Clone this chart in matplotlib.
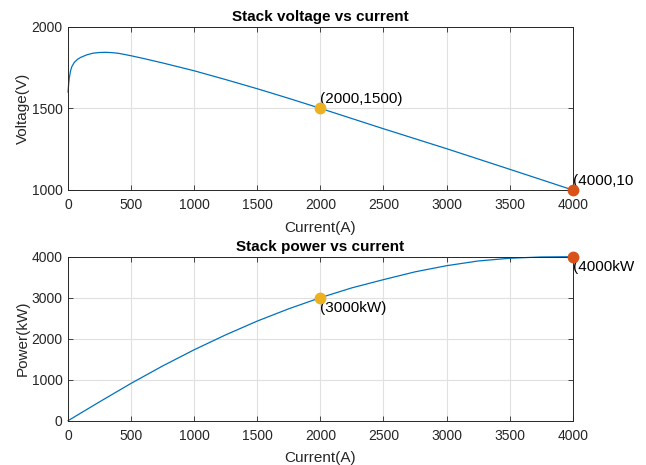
import matplotlib
matplotlib.use("Agg")
import matplotlib.pyplot as plt
from matplotlib.transforms import Bbox, TransformedBbox, IdentityTransform

plt.rcParams['font.family'] = ['Liberation Sans', 'DejaVu Sans']

# Stack voltage samples (current in A, voltage in V)
current_v = [0, 5, 10, 20, 30, 50, 75, 100, 150, 200, 250, 300, 350, 400,
             500, 600, 750, 1000, 1250, 1500, 1750, 2000, 2500, 3000, 3500,
             4000]
voltage = [1600, 1650, 1685, 1730, 1755, 1782, 1800, 1812, 1828, 1838, 1842,
           1843, 1841, 1837, 1822, 1805, 1778, 1730, 1676, 1620, 1561, 1500,
           1375, 1253, 1127, 1000]

# Stack power samples (current in A, power in kW)
current_p = [0, 250, 500, 750, 1000, 1250, 1500, 1750, 2000, 2250, 2500,
             2750, 3000, 3250, 3500, 3750, 4000]
power = [0, 460, 911, 1335, 1730, 2094, 2430, 2730, 3000, 3240, 3440,
         3630, 3780, 3895, 3962, 3993, 4000]

# Marked operating points
mark_current = [2000, 4000]
mark_voltage = [1500, 1000]
mark_power = [3000, 4000]
volt_labels = ['(2000,1500)', '(4000,1000)']
power_labels = ['(3000kW)', '(4000kW)']

x_ticks = [0, 500, 1000, 1500, 2000, 2500, 3000, 3500, 4000]
v_ticks = [1000, 1500, 2000]
p_ticks = [0, 1000, 2000, 3000, 4000]

line_c = '#0072BD'
mark_c = ['#EDB120', '#D95319']
tick_fs = 10
label_fs = 11
title_fs = 11

fig = plt.figure(figsize=(6.46, 4.65), dpi=100)
ax1 = fig.add_axes([0.1053, 0.5914, 0.7813, 0.3512])
ax2 = fig.add_axes([0.1053, 0.0953, 0.7813, 0.3527])

# the figure window ends a little before the image's right edge;
# annotation text is cut off there
window = TransformedBbox(Bbox.from_extents(0, 0, 634, 465),
                         IdentityTransform())


def style(ax):
    ax.set_xlim(0, 4000)
    ax.set_xticks(x_ticks)
    ax.grid(True, color='#e0e0e0', linewidth=0.8)
    ax.set_axisbelow(True)
    ax.tick_params(direction='in', length=3.5, width=0.6, top=True,
                   right=True, labelsize=tick_fs, colors='#262626')
    ax.tick_params(axis='x', pad=6)
    ax.tick_params(axis='y', pad=4)
    for s in ax.spines.values():
        s.set_color('#262626')
        s.set_linewidth(0.7)


def annotate(ax, x, y, s, va):
    t = ax.text(x, y, s, ha='left', va=va, fontsize=label_fs,
                color='#000000')
    t.set_clip_box(window)
    t.set_clip_on(True)


ax1.plot(current_v, voltage, color=line_c, lw=0.9, clip_on=False)
for i in range(2):
    ax1.plot(mark_current[i], mark_voltage[i], 'o', color=mark_c[i],
             ms=7.5, clip_on=False, zorder=5)
    annotate(ax1, mark_current[i], mark_voltage[i] + 12, volt_labels[i],
             'bottom')
style(ax1)
ax1.set_ylim(1000, 2000)
ax1.set_yticks(v_ticks)
ax1.set_title('Stack voltage vs current', fontsize=title_fs,
              fontweight='bold', pad=4)
ax1.set_xlabel('Current(A)', fontsize=label_fs, color='#262626', labelpad=6)
ax1.set_ylabel('Voltage(V)', fontsize=label_fs, color='#262626', labelpad=1)

ax2.plot(current_p, power, color=line_c, lw=0.9, clip_on=False)
for i in range(2):
    ax2.plot(mark_current[i], mark_power[i], 'o', color=mark_c[i],
             ms=7.5, clip_on=False, zorder=5)
    annotate(ax2, mark_current[i], mark_power[i] - 80, power_labels[i],
             'top')
style(ax2)
ax2.set_ylim(0, 4000)
ax2.set_yticks(p_ticks)
ax2.set_title('Stack power vs current', fontsize=title_fs,
              fontweight='bold', pad=4)
ax2.set_xlabel('Current(A)', fontsize=label_fs, color='#262626', labelpad=6)
ax2.set_ylabel('Power(kW)', fontsize=label_fs, color='#262626', labelpad=1)

fig.savefig('out.png', dpi=100, facecolor='white')
